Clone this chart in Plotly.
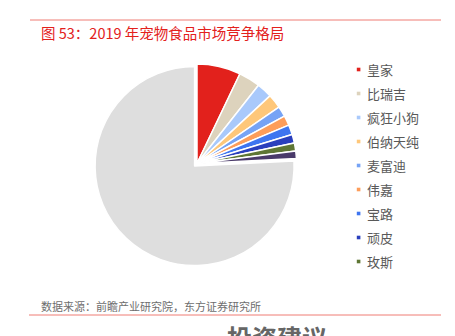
import plotly.graph_objects as go

labels = ["皇家", "比瑞吉", "疯狂小狗", "伯纳天纯", "麦富迪", "伟嘉", "宝路", "顽皮", "玫斯", "其他品牌", "其他"]
values = [7.1, 3.5, 2.5, 2.3, 1.7, 1.6, 1.6, 1.4, 1.3, 1.2, 75.8]
colors = ["#e2211c", "#ddd3bd", "#a9c9fb", "#fec77a", "#76a3f5", "#fd9d5a",
          "#3e75f0", "#2a3fbd", "#5e7634", "#4a3a6a", "#dedede"]
pulls = [0, 0, 0, 0, 0, 0, 0, 0, 0, 0, 0.035]
legend_count = 9

W, H = 455, 336
font = "Noto Sans CJK SC"

fig = go.Figure()
fig.add_trace(go.Pie(
    labels=labels, values=values, sort=False, direction="clockwise", rotation=0,
    marker=dict(colors=colors, line=dict(color="white", width=1.5)),
    pull=pulls, textinfo="none", hoverinfo="none", showlegend=False,
    domain=dict(x=[94 / W, 300 / W], y=[1 - 268 / H, 1 - 59 / H]),
))

shapes = [
    dict(type="line", xref="paper", yref="paper", x0=30 / W, x1=441 / W,
         y0=1 - 20 / H, y1=1 - 20 / H, line=dict(color="#ef7d74", width=1)),
    dict(type="line", xref="paper", yref="paper", x0=29 / W, x1=441 / W,
         y0=1 - 315 / H, y1=1 - 315 / H, line=dict(color="#ef7d74", width=1)),
]
annotations = [
    dict(text="图 53：2019 年宠物食品市场竞争格局", x=39 / W, y=1 - 32 / H, xref="paper", yref="paper",
         xanchor="left", yanchor="middle", showarrow=False,
         font=dict(family=font, size=14.5, color="#e3211c")),
    dict(text="数据来源：前瞻产业研究院，东方证券研究所", x=39 / W, y=1 - 306 / H, xref="paper", yref="paper",
         xanchor="left", yanchor="middle", showarrow=False,
         font=dict(family=font, size=11, color="#6e6e6e")),
    dict(text="<b>投资建议</b>", x=277 / W, y=1 - 317 / H, xref="paper", yref="paper",
         xanchor="center", yanchor="top", showarrow=False,
         font=dict(family=font, size=25, color="#666666")),
]

y0 = 69.5
step = 24
for i in range(legend_count):
    yc = y0 + i * step
    shapes.append(dict(type="rect", xref="paper", yref="paper",
                       x0=356.8 / W, x1=360.4 / W, y0=1 - (yc + 1.8) / H, y1=1 - (yc - 1.8) / H,
                       fillcolor=colors[i], line=dict(width=0)))
    annotations.append(dict(text=labels[i], x=364.5 / W, y=1 - yc / H, xref="paper", yref="paper",
                            xanchor="left", yanchor="middle", showarrow=False,
                            font=dict(family=font, size=13, color="#595959")))

fig.update_layout(
    width=W, height=H, margin=dict(l=0, r=0, t=0, b=0),
    paper_bgcolor="white", plot_bgcolor="white",
    shapes=shapes, annotations=annotations,
)
fig.write_html("out.html")
